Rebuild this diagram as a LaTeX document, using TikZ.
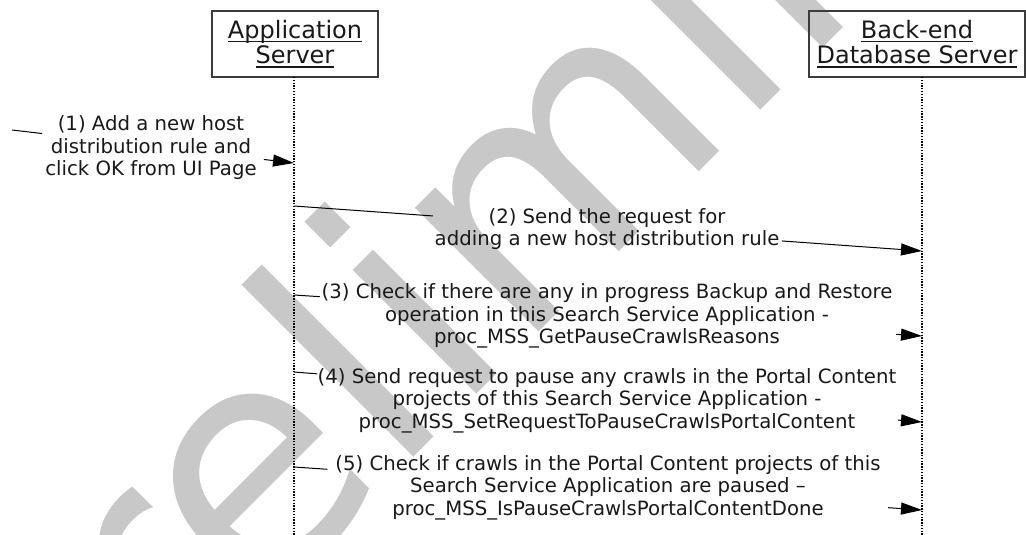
\documentclass[tikz,border=0pt]{standalone}
\usepackage{fontspec}
\setmainfont{DejaVu Sans}
\usetikzlibrary{arrows.meta}
\definecolor{wm}{RGB}{200,200,200}
\definecolor{boxc}{RGB}{60,60,60}
\definecolor{ink}{RGB}{25,25,25}
\newcommand\myul[1]{\setbox0\hbox{#1}\rlap{\vrule height -2.5pt depth 3.8pt width \wd0}\box0}
\begin{document}
\begin{tikzpicture}[x=1pt,y=1pt,
  lbl/.style={font=\fontsize{19.7}{22.5}\selectfont, align=center, inner sep=0pt, text=ink},
  actor/.style={draw=boxc, line width=1.4pt, minimum height=66pt, inner sep=0pt, align=center, text=ink, font=\fontsize{24}{25.5}\selectfont},
  life/.style={line width=1.3pt, dash pattern=on 1.3pt off 1.5pt},
  msg/.style={line width=1pt},
  arr/.style={line width=1pt, -{Triangle[length=21pt,width=12pt]}},
  wmark/.style={text=wm, font=\fontsize{320}{320}\selectfont, rotate=45, anchor=base west, inner sep=0pt}
]
\useasboundingbox (0,0) rectangle (1026,-535);
% watermark
\node[wmark] (wmk) at (33,-838) {Preliminary};
% actors
\node[actor, minimum width=166pt] (app) at (295,-44) {\myul{Application}\\\myul{Server}};
\node[actor, minimum width=216pt] (db) at (917,-44) {\myul{Back-end}\\\myul{Database Server}};
% lifelines
\coordinate (appTop) at (294,-77);
\coordinate (appBot) at (294,-535);
\coordinate (dbTop) at (922,-77);
\coordinate (dbBot) at (922,-535);
\draw[life] (appTop) -- (appBot);
\draw[life] (dbTop) -- (dbBot);
% message 1
\coordinate (s1) at (12,-130);
\coordinate (t1) at (294,-163);
\path (s1) -- (t1) coordinate[pos=0.107] (s1a) coordinate[pos=0.893] (s1b);
\draw[msg] (s1) -- (s1a);
\draw[arr] (s1b) -- (t1);
\node[lbl] (m1) at (151,-148) {(1) Add a new host\\distribution rule and\\click OK from UI Page};
% message 2
\coordinate (s2) at (294,-206);
\coordinate (t2) at (922,-251);
\path (s2) -- (t2) coordinate[pos=0.221] (s2a) coordinate[pos=0.777] (s2b);
\draw[msg] (s2) -- (s2a);
\draw[arr] (s2b) -- (t2);
\node[lbl] (m2) at (607,-229) {(2) Send the request for\\adding a new host distribution rule};
% message 3
\coordinate (s3) at (294,-295);
\coordinate (t3) at (922,-336);
\path (s3) -- (t3) coordinate[pos=0.041] (s3a) coordinate[pos=0.959] (s3b);
\draw[msg] (s3) -- (s3a);
\draw[arr] (s3b) -- (t3);
\node[lbl] (m3) at (607,-316) {(3) Check if there are any in progress Backup and Restore\\operation in this Search Service Application -\\proc\_MSS\_GetPauseCrawlsReasons};
% message 4
\coordinate (s4) at (294,-372);
\coordinate (t4) at (922,-422);
\path (s4) -- (t4) coordinate[pos=0.037] (s4a) coordinate[pos=0.962] (s4b);
\draw[msg] (s4) -- (s4a);
\draw[arr] (s4b) -- (t4);
\node[lbl] (m4) at (607,-400.5) {(4) Send request to pause any crawls in the Portal Content\\projects of this Search Service Application -\\proc\_MSS\_SetRequestToPauseCrawlsPortalContent};
% message 5
\coordinate (s5) at (294,-467);
\coordinate (t5) at (922,-510);
\path (s5) -- (t5) coordinate[pos=0.053] (s5a) coordinate[pos=0.946] (s5b);
\draw[msg] (s5) -- (s5a);
\draw[arr] (s5b) -- (t5);
\node[lbl] (m5) at (608,-487.5) {(5) Check if crawls in the Portal Content projects of this\\Search Service Application are paused –\\proc\_MSS\_IsPauseCrawlsPortalContentDone};
\end{tikzpicture}
\end{document}
